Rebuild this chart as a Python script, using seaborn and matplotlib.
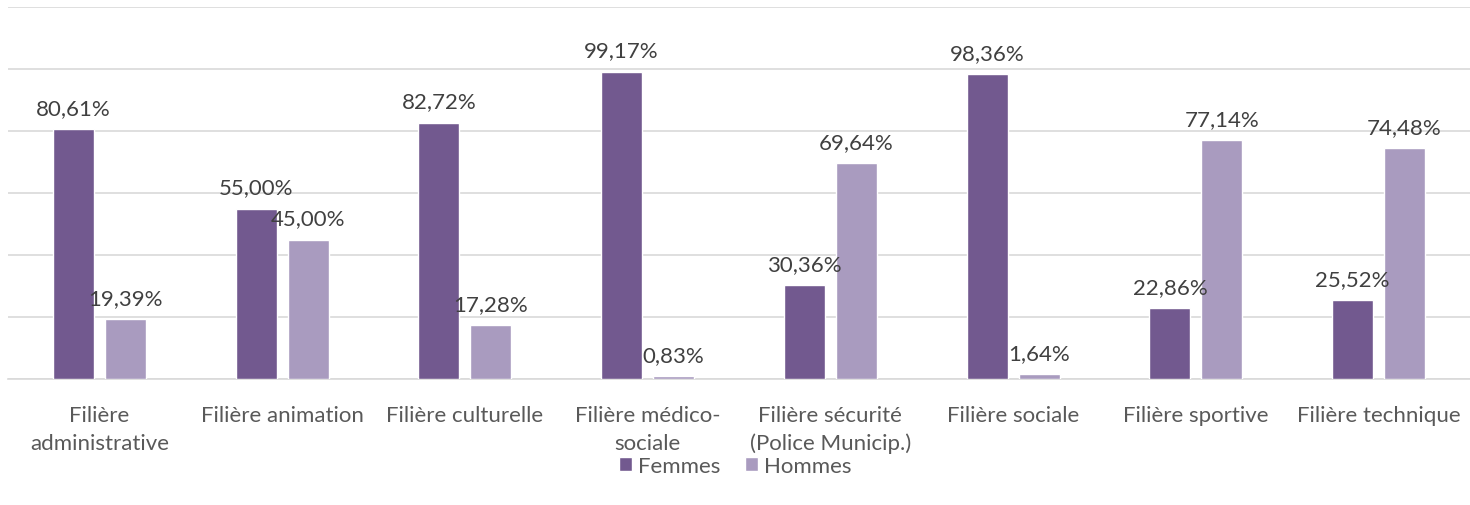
import matplotlib
matplotlib.use("Agg")
import matplotlib.pyplot as plt
import seaborn as sns
import pandas as pd
from matplotlib.patches import Patch

categories = ["Filière\nadministrative", "Filière animation", "Filière culturelle",
              "Filière médico-\nsociale", "Filière sécurité\n(Police Municip.)",
              "Filière sociale", "Filière sportive", "Filière technique"]
femmes = [80.61, 55.00, 82.72, 99.17, 30.36, 98.36, 22.86, 25.52]
hommes = [19.39, 45.00, 17.28, 0.83, 69.64, 1.64, 77.14, 74.48]
series = ["Femmes", "Hommes"]
colors = ["#72598F", "#A99BBF"]

df = pd.DataFrame({
    "cat": categories * 2,
    "val": femmes + hommes,
    "sexe": [series[0]] * len(categories) + [series[1]] * len(categories),
})

sns.set_theme(style="white")
plt.rcParams["font.family"] = ["Lato", "DejaVu Sans"]
FS = 16

fig = plt.figure(figsize=(14.7, 5.06), dpi=100)
ax = fig.add_axes([8 / 1470, 1 - 380 / 506, 1 - 8 / 1470, (380 - 8) / 506])

sns.barplot(data=df, x="cat", y="val", hue="sexe", palette=colors, width=0.568,
            gap=0.21, ax=ax, legend=False, saturation=1, zorder=3)

ax.set_ylim(0, 120)
ax.set_xlim(-0.5, len(categories) - 0.5)
ax.set_yticks(range(0, 121, 20))
ax.yaxis.grid(True, color="#D9D9D9", linewidth=1.2, zorder=0)
ax.set_axisbelow(True)
ax.tick_params(axis="y", left=False, labelleft=False)
ax.tick_params(axis="x", bottom=False, pad=13, labelsize=FS, labelcolor="#595959")
for lbl in ax.get_xticklabels():
    lbl.set_linespacing(1.45)
ax.set_xlabel("")
ax.set_ylabel("")
for s in ["top", "right", "left"]:
    ax.spines[s].set_visible(False)
ax.spines["bottom"].set_color("#D9D9D9")
ax.spines["bottom"].set_linewidth(1.2)

for cont, vals in zip(ax.containers, [femmes, hommes]):
    labels = [f"{v:.2f}%".replace(".", ",") for v in vals]
    ax.bar_label(cont, labels=labels, padding=8, fontsize=FS, color="#404040")

handles = [Patch(facecolor=c, label=s) for c, s in zip(colors, series)]
fig.legend(handles=handles, loc="center", bbox_to_anchor=(0.5, 1 - 467 / 506), ncol=2,
           frameon=False, fontsize=FS, handlelength=0.6, handleheight=0.6,
           handletextpad=0.25, columnspacing=1.1, labelcolor="#595959")

fig.savefig("out.png", dpi=100)
